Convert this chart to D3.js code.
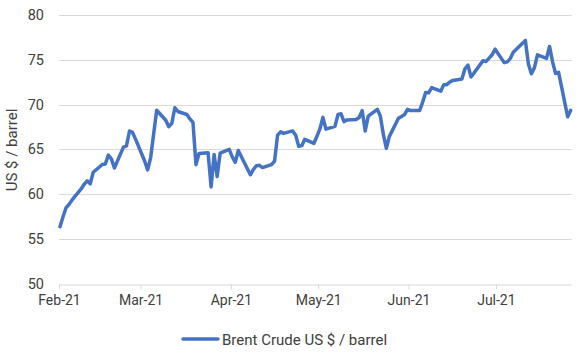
<!DOCTYPE html>
<html><head><meta charset="utf-8">
<script src="https://cdn.jsdelivr.net/npm/d3@7"></script>
<style>
html,body{margin:0;padding:0;background:#fff;}
text{font-family:Roboto, "Liberation Sans", Arial, sans-serif;}
</style></head>
<body>
<svg id="chart" width="581" height="354"></svg>
<script>
// ---- data ----
const seriesName = "Brent Crude US $ / barrel";
const yAxisTitle = "US $ / barrel";
const yTicks = [50, 55, 60, 65, 70, 75, 80];
const xTickLabels = ["Feb-21", "Mar-21", "Apr-21", "May-21", "Jun-21", "Jul-21"];
const dates = [
 "2021-02-01","2021-02-02","2021-02-03","2021-02-04","2021-02-05","2021-02-08","2021-02-09","2021-02-10","2021-02-11","2021-02-12",
 "2021-02-15","2021-02-16","2021-02-17","2021-02-18","2021-02-19","2021-02-22","2021-02-23","2021-02-24","2021-02-25","2021-02-26",
 "2021-03-01","2021-03-02","2021-03-03","2021-03-04","2021-03-05","2021-03-08","2021-03-09","2021-03-10","2021-03-11","2021-03-12",
 "2021-03-15","2021-03-16","2021-03-17","2021-03-18","2021-03-19","2021-03-22","2021-03-23","2021-03-24","2021-03-25","2021-03-26",
 "2021-03-29","2021-03-30","2021-03-31","2021-04-01","2021-04-05","2021-04-06","2021-04-07","2021-04-08","2021-04-09","2021-04-12",
 "2021-04-13","2021-04-14","2021-04-15","2021-04-16","2021-04-19","2021-04-20","2021-04-21","2021-04-22","2021-04-23","2021-04-26",
 "2021-04-27","2021-04-28","2021-04-29","2021-04-30","2021-05-03","2021-05-04","2021-05-05","2021-05-06","2021-05-07","2021-05-10",
 "2021-05-11","2021-05-12","2021-05-13","2021-05-14","2021-05-17","2021-05-18","2021-05-19","2021-05-20","2021-05-21","2021-05-24",
 "2021-05-25","2021-05-26","2021-05-27","2021-05-28","2021-05-31","2021-06-01","2021-06-02","2021-06-03","2021-06-04","2021-06-07",
 "2021-06-08","2021-06-09","2021-06-10","2021-06-11","2021-06-14","2021-06-15","2021-06-16","2021-06-17","2021-06-18","2021-06-21",
 "2021-06-22","2021-06-23","2021-06-24","2021-06-25","2021-06-28","2021-06-29","2021-06-30","2021-07-01","2021-07-02","2021-07-05",
 "2021-07-06","2021-07-07","2021-07-08","2021-07-09","2021-07-12","2021-07-13","2021-07-14","2021-07-15","2021-07-16","2021-07-19",
 "2021-07-20"
];
const prices = [
 56.35,57.46,58.46,58.84,59.34,60.56,61.09,61.47,61.14,62.43,
 63.30,63.35,64.34,63.93,62.91,65.24,65.37,67.04,66.88,66.13,
 63.69,62.70,64.07,66.74,69.36,68.24,67.52,67.90,69.63,69.22,
 68.88,68.39,68.00,63.28,64.53,64.62,60.79,64.41,61.95,64.57,
 64.98,64.14,63.54,64.86,62.15,62.74,63.16,63.20,62.95,63.28,
 63.67,66.58,66.94,66.77,67.05,66.57,65.32,65.40,66.11,65.65,
 66.42,67.27,68.56,67.25,67.56,68.88,68.96,68.09,68.28,68.32,
 68.55,69.32,67.05,68.71,69.46,68.71,66.66,65.11,66.44,68.46,
 68.65,68.87,69.46,69.32,69.32,70.25,71.35,71.31,71.89,71.49,
 72.22,72.22,72.52,72.69,72.86,73.99,74.39,73.08,73.51,74.90,
 74.81,75.19,75.56,76.18,74.68,74.76,75.13,75.84,76.17,77.16,
 74.53,73.43,74.12,75.55,75.16,76.49,74.76,73.47,73.59,68.62,
 69.35
];

// ---- chart ----
const parse = d3.timeParse("%Y-%m-%d");
const data = dates.map((d, i) => ({date: parse(d), value: prices[i]}));
const svg = d3.select("#chart");

const y = d3.scaleLinear().domain([50, 80]).range([283.5, 15]);
const xAxisScale = d3.scaleTime()
  .domain([new Date(2021, 1, 1), new Date(2021, 6, 27)])
  .range([59, 571.6]);
const xData = d3.scaleTime()
  .domain([data[0].date, data[data.length - 1].date])
  .range([60, 570.7]);

// gridlines
svg.append("g").selectAll("line").data(yTicks.filter(t => t > 50)).join("line")
  .attr("x1", 59).attr("x2", 571.6)
  .attr("y1", d => Math.round(y(d)) + 0.5).attr("y2", d => Math.round(y(d)) + 0.5)
  .attr("stroke", "#d9d9d9").attr("stroke-width", 1);

// y axis labels
const yAx = svg.append("g").attr("transform", "translate(48,0)")
  .call(d3.axisLeft(y).tickValues(yTicks).tickSize(0).tickPadding(4));
yAx.select(".domain").remove();
yAx.selectAll("text").attr("font-size", 14.5).attr("fill", "#404040")
  .style("font-family", "Roboto, 'Liberation Sans', Arial, sans-serif");

// x axis
const monthTicks = xTickLabels.map((_, i) => new Date(2021, 1 + i, 1));
const xAx = svg.append("g").attr("transform", "translate(0,284.5)")
  .call(d3.axisBottom(xAxisScale).tickValues(monthTicks)
    .tickFormat((d, i) => xTickLabels[i]).tickSize(5).tickSizeOuter(0).tickPadding(6));
xAx.select(".domain").attr("stroke", "#d9d9d9");
xAx.selectAll(".tick line").attr("stroke", "#d9d9d9");
xAx.selectAll("text").attr("font-size", 14).attr("fill", "#404040")
  .style("font-family", "Roboto, 'Liberation Sans', Arial, sans-serif");

// y title
svg.append("text")
  .attr("transform", "translate(17,150) rotate(-90)")
  .attr("text-anchor", "middle")
  .attr("font-size", 15).attr("fill", "#404040")
  .text(yAxisTitle);

// line
const line = d3.line().x(d => xData(d.date)).y(d => y(d.value));
svg.append("path").datum(data)
  .attr("fill", "none").attr("stroke", "#4472C4").attr("stroke-width", 3.5)
  .attr("stroke-linejoin", "round").attr("stroke-linecap", "round")
  .attr("d", line);

// legend
const lg = svg.append("g").attr("transform", "translate(183,339)");
lg.append("line").attr("x1", 0).attr("x2", 35).attr("y1", 0).attr("y2", 0)
  .attr("stroke", "#4472C4").attr("stroke-width", 3.5).attr("stroke-linecap", "round");
lg.append("text").attr("x", 39).attr("y", 5.5)
  .attr("font-size", 15).attr("fill", "#404040").text(seriesName);
</script>
</body></html>
